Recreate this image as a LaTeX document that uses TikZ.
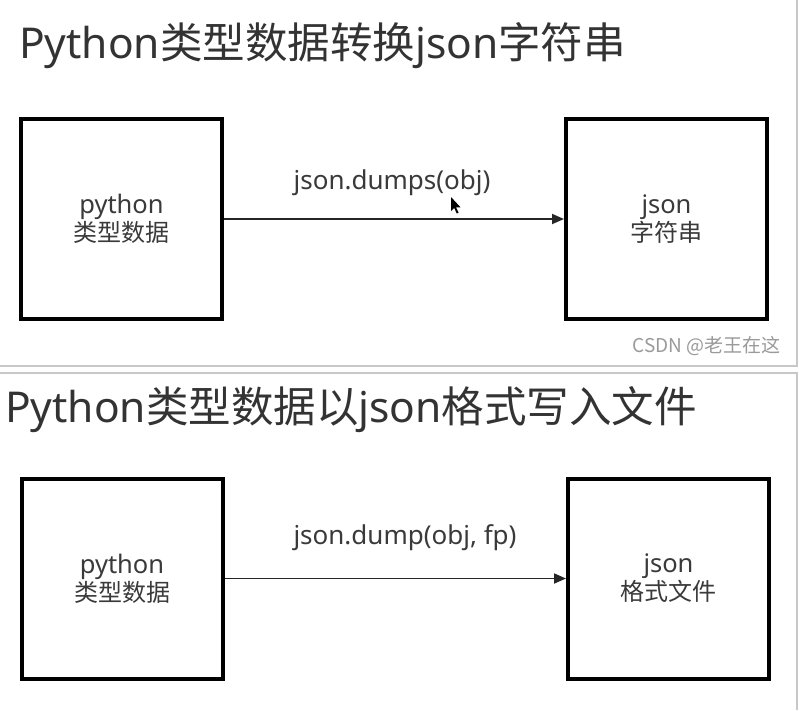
\documentclass[tikz,border=0pt]{standalone}
\usepackage{fontspec}
\setmainfont{Noto Sans}
\newfontfamily\cjk{Noto Sans CJK SC}
\usetikzlibrary{arrows.meta}
\definecolor{txt}{HTML}{3A3A3A}
\definecolor{ttl}{HTML}{333333}
\definecolor{sep}{HTML}{C8C8C8}
\definecolor{wm}{HTML}{9A9A9A}
\newcommand{\cj}[1]{{\cjk\fontsize{24}{28}\selectfont #1}}
\begin{document}
\begin{tikzpicture}[x=1pt,y=-1pt,
  box/.style={draw=black, line width=4pt, minimum width=201pt, minimum height=200pt,
    inner sep=0pt, align=center, font=\fontsize{25.5}{28}\selectfont, text=txt},
  conn/.style={draw=black!85, line width=1.8pt, -{Triangle[length=12pt,width=10pt]}},
  lbl/.style={font=\fontsize{26}{28}\selectfont, text=txt, inner sep=0pt},
  ttlstyle/.style={font=\fontsize{42.5}{46}\selectfont, text=ttl, inner sep=0pt, anchor=west},
  sepline/.style={draw=sep, line width=1.5pt}
]
\useasboundingbox (0,0) rectangle (799,710);
\fill[white] (0,0) rectangle (799,710);

% panel separators
\draw[sepline] (0,366) -- (797,366) -- (797,0);
\draw[sepline] (0,373) -- (797,373) -- (797,710);

% top panel
\node[ttlstyle] (t1) at (19,46) {Python{\cjk 类型数据转换}json{\cjk 字符串}};
\node[box] (a1) at (121.5,219) {python\\\cj{类型数据}};
\node[box] (b1) at (666.5,219) {json\\\cj{字符串}};
\draw[conn] (a1.east) -- (b1.west);
\node[lbl] (l1) at (392,183) {json.dumps(obj)};
\node[font=\cjk\fontsize{19}{20}\selectfont, text=wm, inner sep=0pt, anchor=east] (wm) at (781,346) {CSDN @老王在这};

% mouse cursor
\fill[black] (451,197) -- (451,211) -- (454.2,208) -- (456.8,213.5) -- (458.6,212.6) -- (456,207.3) -- (460.5,207.3) -- cycle;

% bottom panel
\node[ttlstyle] (t2) at (5,410) {Python{\cjk 类型数据以}json{\cjk 格式写入文件}};
\node[box] (a2) at (122,578.5) {python\\\cj{类型数据}};
\node[box] (b2) at (668.5,578.5) {json\\\cj{格式文件}};
\draw[conn] (a2.east) -- (b2.west);
\node[lbl] (l2) at (405,538) {json.dump(obj, fp)};
\end{tikzpicture}
\end{document}
